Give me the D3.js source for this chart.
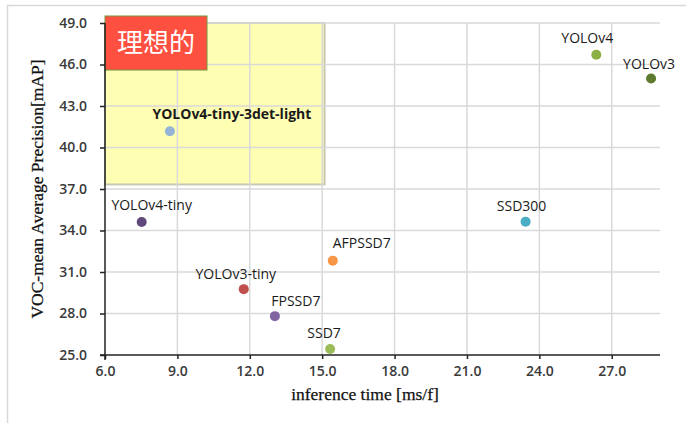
<!DOCTYPE html>
<html>
<head>
<meta charset="utf-8">
<script src="https://cdn.jsdelivr.net/npm/d3@7"></script>
<style>
  html, body { margin: 0; padding: 0; background: #fff; }
  svg { display: block; }
</style>
</head>
<body>
<svg id="chart" width="686" height="423"></svg>
<script>
// ---- data ----
const models = ["YOLOv4-tiny-3det-light", "YOLOv4-tiny", "YOLOv3-tiny", "FPSSD7", "SSD7", "AFPSSD7", "SSD300", "YOLOv4", "YOLOv3"];
const inferenceTime = [8.69, 7.52, 11.75, 13.04, 15.33, 15.44, 23.43, 26.36, 28.63];
const mAP = [41.17, 34.62, 29.76, 27.81, 25.44, 31.82, 34.64, 46.70, 44.99];
const pointColors = ["#95b3d7", "#60497a", "#c0504d", "#8064a2", "#9bbb59", "#f79646", "#4bacc6", "#8db044", "#5d7a2e"];
const labelDx = [62, 10, -8, 21, -6, 29, -4, -9, -2];
const labelDy = [-17, -17, -15, -15, -16, -18, -16, -17, -14];
const boldLabel = [true, false, false, false, false, false, false, false, false];
const xTicks = [6, 9, 12, 15, 18, 21, 24, 27];
const yTicks = [25, 28, 31, 34, 37, 40, 43, 46, 49];
const xDomain = [6, 29];
const yDomain = [25, 49];
const idealX = [6, 15.1];
const idealY = [37.33, 49];
const idealLabel = "理想的";
const xTitle = "inference time [ms/f]";
const yTitle = "VOC-mean Average Precision[mAP]";

// ---- layout ----
const svg = d3.select("#chart");
const pL = 105, pR = 660, pT = 23, pB = 355;
const x = d3.scaleLinear().domain(xDomain).range([pL, pR]);
const y = d3.scaleLinear().domain(yDomain).range([pB, pT]);

// outer frame
svg.append("rect").attr("x", 7.5).attr("y", 5.5).attr("width", 700).attr("height", 430)
  .attr("fill", "#fff").attr("stroke", "#d9d9d9").attr("stroke-width", 1.5);

// ideal region
svg.append("rect")
  .attr("x", x(idealX[0])).attr("y", y(idealY[1]))
  .attr("width", x(idealX[1]) - x(idealX[0]))
  .attr("height", y(idealY[0]) - y(idealY[1]))
  .attr("fill", "#ffffb4")
  .attr("stroke", "#c8c8b4").attr("stroke-width", 2);

// gridlines
const grid = svg.append("g");
grid.selectAll("line.h").data(yTicks.slice(1)).join("line")
  .attr("x1", pL).attr("x2", pR)
  .attr("y1", d => y(d)).attr("y2", d => y(d))
  .attr("stroke", "#d9d9d9").attr("stroke-width", 1.5);
grid.selectAll("line.v").data(xTicks.slice(1)).join("line")
  .attr("x1", d => x(d)).attr("x2", d => x(d))
  .attr("y1", pT).attr("y2", pB)
  .attr("stroke", "#d9d9d9").attr("stroke-width", 1.5);

// red label box
const bx = x(idealX[0]), by = y(idealY[1]) - 7;
svg.append("rect").attr("x", bx).attr("y", by).attr("width", 102).attr("height", 54)
  .attr("fill", "#fe5040").attr("stroke", "#77933c").attr("stroke-width", 1);
svg.append("text").attr("x", bx + 51).attr("y", by + 27).attr("dy", "0.35em")
  .attr("text-anchor", "middle").attr("fill", "#fff")
  .attr("font-family", "'Noto Sans CJK TC', 'Noto Sans CJK SC', sans-serif")
  .attr("font-size", 26).text(idealLabel);

// axes
const tickFont = "'Open Sans', 'DejaVu Sans', sans-serif";
const xAxis = svg.append("g").attr("transform", `translate(0,${pB})`)
  .call(d3.axisBottom(x).tickValues(xTicks).tickFormat(d3.format(".1f")).tickSize(4).tickPadding(7).tickSizeOuter(0));
const yAxis = svg.append("g").attr("transform", `translate(${pL},0)`)
  .call(d3.axisLeft(y).tickValues(yTicks).tickFormat(d3.format(".1f")).tickSize(5).tickPadding(13).tickSizeOuter(0));
[xAxis, yAxis].forEach(a => {
  a.select(".domain").attr("stroke", "#222").attr("stroke-width", 1.5);
  a.selectAll(".tick line").attr("stroke", "#222").attr("stroke-width", 1.5);
  a.selectAll(".tick text").attr("font-family", tickFont).attr("font-size", 14)
    .attr("font-weight", 600).attr("fill", "#3a3a3a");
});
xAxis.select(".domain").attr("d", `M${pL - 5},0H${pR}`);
yAxis.select(".domain").attr("d", `M0,${pB + 5}V${pT}`);

// axis titles
svg.append("text").attr("x", 365).attr("y", 394).attr("dy", "0.35em")
  .attr("text-anchor", "middle").attr("font-family", "'Liberation Serif', 'DejaVu Serif', serif")
  .attr("font-size", 17.5).attr("fill", "#111").attr("stroke", "#111").attr("stroke-width", 0.25)
  .text(xTitle);
svg.append("text").attr("transform", "translate(37,189) rotate(-90)").attr("dy", "0.35em")
  .attr("text-anchor", "middle").attr("font-family", "'Liberation Serif', 'DejaVu Serif', serif")
  .attr("font-size", 17.5).attr("fill", "#111").attr("stroke", "#111").attr("stroke-width", 0.25)
  .text(yTitle);

// points
const idx = d3.range(models.length);
svg.append("g").selectAll("circle").data(idx).join("circle")
  .attr("cx", i => x(inferenceTime[i])).attr("cy", i => y(mAP[i]))
  .attr("r", 5).attr("fill", i => pointColors[i]);

// labels
svg.append("g").selectAll("text").data(idx).join("text")
  .attr("x", i => x(inferenceTime[i]) + labelDx[i])
  .attr("y", i => y(mAP[i]) + labelDy[i])
  .attr("dy", "0.35em").attr("text-anchor", "middle")
  .attr("font-family", tickFont).attr("font-size", 14)
  .attr("font-weight", i => boldLabel[i] ? 700 : 400)
  .attr("fill", "#1a1a1a").text(i => models[i]);
</script>
</body>
</html>
